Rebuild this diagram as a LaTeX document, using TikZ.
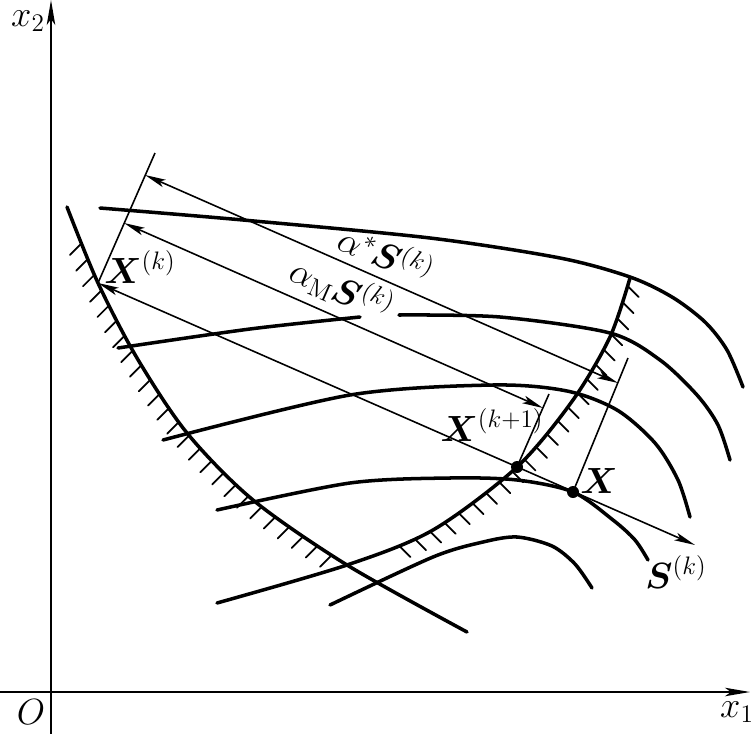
\documentclass[tikz,border=0pt]{standalone}
\usepackage{bm}
\usetikzlibrary{arrows.meta, decorations.markings}

\begin{document}
\begin{tikzpicture}[
    x=0.02cm, y=-0.02cm,
    axis/.style={line width=1.2pt, -{Stealth[length=0.5cm, width=0.17cm, inset=0.12cm]}},
    contour/.style={line width=2pt, line cap=round},
    extline/.style={line width=0.9pt},
    dimline/.style={line width=0.9pt, {Stealth[length=0.42cm, width=0.16cm, inset=0.1cm]}-{Stealth[length=0.42cm, width=0.16cm, inset=0.1cm]}},
    dot/.style={circle, fill, inner sep=0pt, minimum size=0.24cm},
    lbl/.style={font=\fontsize{20}{22}\selectfont, inner sep=0pt},
    hatchleft/.style={postaction={decorate, decoration={markings,
        mark=between positions 0.065 and 0.75 step 0.34cm with {\pgftransformresetnontranslations
        \draw[line width=1pt] (0,0) -- (-0.23cm,-0.23cm);}}}},
    hatchright/.style={postaction={decorate, decoration={markings,
        mark=between positions 0.015 and 0.68 step 0.34cm with {\pgftransformresetnontranslations
        \draw[line width=1pt] (0,0) -- (0.22cm,-0.22cm);}}}},
]
\useasboundingbox (0,0) rectangle (751,734);

% axes
\draw[axis] (0,692) -- (750,692);
\draw[axis] (51,734) -- (51,0);
\node[lbl] (x2) at (28,21) {$x_2$};
\node[lbl] (o) at (31,712) {$O$};
\node[lbl] (x1) at (737,712) {$x_1$};

% constraint boundaries
\draw[contour, hatchleft] plot[smooth] coordinates {(67,207) (98,283) (137,358) (187,433) (253,500) (347,565) (467,632)};
\draw[contour, hatchright] plot[smooth] coordinates {(630,278) (610,337) (573,400) (517,467) (433,530) (347,565) (217,603)};

% objective contours
\draw[contour] plot[smooth] coordinates {(100,208) (243,220) (430,238) (560,258) (630,277) (672,297) (705,322) (727,350) (743,387)};
\draw[contour] plot[smooth] coordinates {(118,348) (250,329) (360,317)};
\draw[contour] plot[smooth] coordinates {(399,315) (500,317) (610,333) (660,360) (697,395) (718,425) (730,460)};
\draw[contour] plot[smooth] coordinates {(163,440) (350,395) (493,385) (567,391) (617,410) (655,443) (678,480) (690,517)};
\draw[contour] plot[smooth] coordinates {(217,510) (350,483) (450,478) (517,480) (573,492) (613,520) (635,540) (648,560)};
\draw[contour] plot[smooth] coordinates {(330,605) (433,557) (483,542) (517,537) (552,546) (575,564) (592,588)};

% search points
\coordinate (Xk) at (98,283);
\coordinate (Xk1) at (517,467);
\coordinate (Xs) at (573,492);
\coordinate (Sk) at (695,545);
\coordinate (Ek) at (155,153);
\coordinate (Ek1) at (549,394);
\coordinate (Es) at (628,358);
\coordinate (Ak) at (145,175);
\coordinate (As) at (618,383);
\coordinate (Bk) at (124,223);
\coordinate (Bk1) at (543,408);

\draw[extline] (Xk) -- (Ek);
\draw[extline] (Xk1) -- (Ek1);
\draw[extline] (Xs) -- (Es);
\draw[dimline] (Ak) -- (As);
\draw[dimline] (Bk) -- (Bk1);
\draw[dimline] (Xk) -- (Sk);
\node[dot] (dk1) at (Xk1) {};
\node[dot] (ds) at (Xs) {};

% labels
\node[lbl] (lxk) at (140,267) {$\bm{X}^{(k)}$};
\node[lbl, rotate=-23.7] (lastar) at (387,253) {$\alpha^*\bm{S}^{(k)}$};
\node[lbl, rotate=-23.7] (lam) at (342,289) {$\alpha_{\mathrm{M}}\bm{S}^{(k)}$};
\node[lbl] (lxk1) at (492,425) {$\bm{X}^{(k+1)}$};
\node[lbl] (lx) at (599,481) {$\bm{X}$};
\node[lbl] (lsk) at (676,572) {$\bm{S}^{(k)}$};

\end{tikzpicture}
\end{document}
